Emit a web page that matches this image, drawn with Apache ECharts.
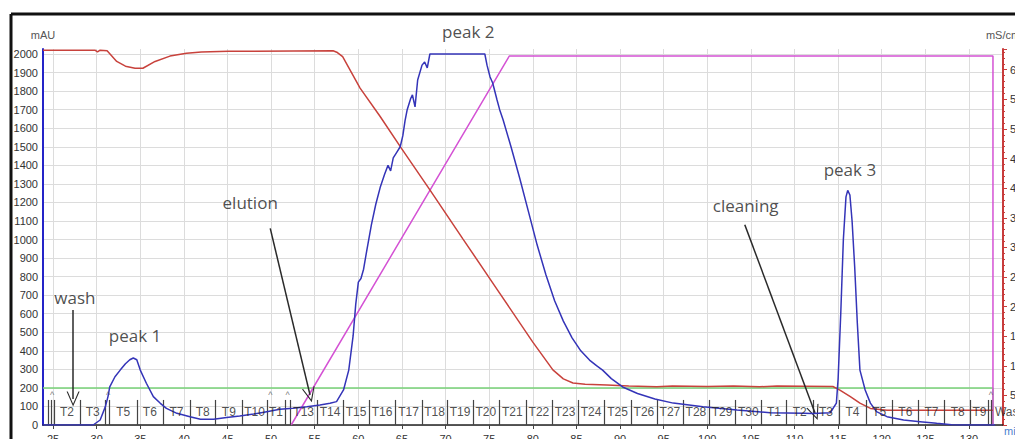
<!DOCTYPE html>
<html><head><meta charset="utf-8">
<script src="https://cdn.jsdelivr.net/npm/echarts@6/dist/echarts.min.js"></script>
<style>html,body{margin:0;padding:0;background:#fff;overflow:hidden}#c{width:1015px;height:439px}</style>
</head><body><div id="c"></div>
<script>
// ---- data ----
const xTicks = [25,30,35,40,45,50,55,60,65,70,75,80,85,90,95,100,105,110,115,120,125,130];
const yTicks = [0,100,200,300,400,500,600,700,800,900,1000,1100,1200,1300,1400,1500,1600,1700,1800,1900,2000];
// UV 280 nm (mAU) vs time (min)
const uvTime = [23.85,29.6,30.4,31.0,31.3,31.5,32.1,32.7,33.3,33.8,34.2,34.6,35.0,35.7,36.5,37.3,38.0,39.2,40.7,41.9,43.4,44.9,46.4,48.0,49.5,51.0,52.5,54.1,55.6,56.75,57.5,58.3,58.9,59.4,59.7,60.0,60.3,60.6,61.0,61.5,62.0,62.5,63.0,63.4,63.7,64.0,64.4,64.8,65.1,65.35,65.6,66.0,66.2,66.5,66.8,67.3,67.6,67.9,68.2,74.5,74.75,75.1,75.4,75.9,76.2,76.6,77.5,78.5,79.5,80.5,81.5,82.5,83.5,84.5,85.5,86.5,87.3,88.0,89.0,90.3,92.0,94.0,96.1,99.5,103.4,107.2,111.0,112.1,114.1,114.8,115.0,115.3,115.6,115.9,116.1,116.35,116.6,116.9,117.2,117.5,118.1,118.7,119.4,120.6,122.5,124.4,126.3,128.0,129.0,133.0];
const uvValue = [0,0,27,99,153,206,260,296,330,352,361,352,296,225,153,117,90,63,45,31,31,41,49,59,72,85,90,99,108,117,126,189,296,480,650,770,790,840,950,1080,1190,1280,1350,1400,1370,1440,1470,1500,1560,1640,1700,1760,1780,1715,1860,1940,1957,1925,2000,2000,1940,1876,1844,1752,1700,1644,1500,1330,1150,970,810,670,560,470,400,350,320,296,250,205,170,140,118,99,81,66,63,62,66,118,250,600,1000,1230,1265,1240,1100,850,550,296,189,118,72,45,27,18,9,2,0,0];
// Conductivity (mS/cm)
const condTime = [23.85,29.8,30.1,30.4,31.2,32.3,33.3,34.4,35.3,36.7,38.4,40.3,42.0,45.1,57.1,57.6,58.2,60.2,62.5,65.0,68.2,72.0,76.0,80.0,82.3,83.5,84.6,86.0,88.5,91.0,94.2,96.0,100.0,103.0,106.0,108.0,111.0,114.4,115.2,116.4,117.5,118.7,120.6,132.75];
const condValue = [63.3,63.3,63.0,63.3,63.2,61.4,60.6,60.25,60.25,61.4,62.3,62.8,63.0,63.1,63.2,62.9,62.2,56.9,52.1,46.6,39.7,31.4,22.7,14.0,9.3,7.8,7.1,6.9,6.76,6.6,6.47,6.6,6.5,6.6,6.45,6.6,6.55,6.5,5.9,4.8,3.7,2.8,2.5,2.5];
// Conc B (%)
const concBTime = [52.3,77.3,132.75,132.75];
const concBValue = [0,100,100,0];
// Green trace (flat 200 level)
const greenTime = [23.85,132.75,132.75];
const greenValue = [200,200,0];
// Fractions
const fracEdges = [25.1,28.1,31.0,31.5,34.6,37.6,40.7,43.6,46.7,49.5,51.6,52.2,55.26,58.24,61.22,64.2,67.3,70.16,73.14,76.1,79.2,82.2,85.18,88.16,91.25,94.23,97.2,100.2,103.2,106.2,109.1,112.1,115.1,118.2,121.2,124.2,127.2,130.2,132.2,132.6];
const fracNames = ['T2','T3','','T5','T6','T7','T8','T9','T10','T1','','T13','T14','T15','T16','T17','T18','T19','T20','T21','T22','T23','T24','T25','T26','T27','T28','T29','T30','T1','T2','T3','T4','T5','T6','T7','T8','T9',''];
const extraMarks = [24.5,24.8];
const injectMarks = [24.9,31.3,49.9,51.9,132.5];
// Annotations
const noteText = ['wash','peak 1','elution','peak 2','cleaning','peak 3'];
const noteTime = [27.5,34.4,47.6,72.6,104.4,116.35];
const noteValue = [690,480,1202,2119,1186,1375];
const arrowFrom = [[27.3,620],[49.9,1060],[104.3,1080]];
const arrowTo = [[27.3,140],[54.46,162],[112.35,65]];

const zip = (a,b)=>a.map((v,i)=>[v,b[i]]);
const chart = echarts.init(document.getElementById('c'), null, {renderer:'svg'});
const FONT = 'Liberation Sans, Arial, sans-serif';
const chevron = 'path://M50,0 L100,100 L91,100 L50,18 L9,100 L0,100 Z';

const fracLineData = fracEdges.concat(extraMarks).map(t=>[{coord:[t,0]},{coord:[t,135]}]);
const fracLabelData = [];
for (let i=0;i<fracNames.length;i++){ if(fracNames[i]) fracLabelData.push({value:[(fracEdges[i]+fracEdges[i+1])/2,68],name:fracNames[i]}); }

chart.setOption({
  backgroundColor:'#fff',
  animation:false,
  grid:{left:43,right:12,top:49,bottom:14,containLabel:false,outerBoundsMode:'none'},
  xAxis:{type:'value',min:23.85,max:133.9,
    axisLine:{lineStyle:{color:'#222',width:1.5}},
    axisTick:{customValues:xTicks,length:4,lineStyle:{color:'#444'}},
    axisLabel:{customValues:xTicks,color:'#333',fontSize:11,fontFamily:FONT,margin:8},
    splitLine:{show:true,lineStyle:{color:'#dcdcdc',width:1}}},
  yAxis:[
    {type:'value',min:0,max:2027,position:'left',
     name:'mAU',nameLocation:'end',nameGap:9,nameTextStyle:{color:'#555',fontSize:11,fontFamily:FONT},
     axisLine:{show:true,lineStyle:{color:'#2424c8',width:2}},
     axisTick:{show:false,customValues:yTicks},
     axisLabel:{customValues:yTicks,color:'#333',fontSize:11,fontFamily:FONT,margin:5,formatter:v=>String(v)},
     splitLine:{show:true,lineStyle:{color:'#dcdcdc',width:1}}},
    {type:'value',min:0,max:63.5,interval:5,position:'right',
     name:'mS/cm',nameLocation:'end',nameGap:9,nameTextStyle:{color:'#555',fontSize:11,fontFamily:FONT},
     axisLine:{show:true,lineStyle:{color:'#c83c3c',width:2}},
     axisTick:{show:true,length:4,lineStyle:{color:'#c83c3c'}},
     minorTick:{show:true,splitNumber:5,length:2,lineStyle:{color:'#c83c3c'}},
     axisLabel:{color:'#333',fontSize:11,fontFamily:FONT,margin:7,formatter:v=>(v>0&&v%5===0)?String(v):''},
     splitLine:{show:false}},
    {type:'value',min:0,max:101.9,show:false}
  ],
  graphic:[
    {type:'line',shape:{x1:11,y1:14,x2:1015,y2:14},style:{stroke:'#111',lineWidth:3}},
    {type:'line',shape:{x1:11,y1:14,x2:11,y2:439},style:{stroke:'#111',lineWidth:3}},
    {type:'text',left:1004,top:425,style:{text:'min',fill:'#4a7fd0',font:'11px '+FONT}}
  ],
  series:[
    {type:'line',name:'Green',yAxisIndex:0,data:zip(greenTime,greenValue),symbol:'none',lineStyle:{color:'#78d278',width:1.5},z:2},
    {type:'line',name:'Conc B',yAxisIndex:2,data:zip(concBTime,concBValue),symbol:'none',lineStyle:{color:'#d452d4',width:1.5},z:3},
    {type:'line',name:'Cond',yAxisIndex:1,data:zip(condTime,condValue),symbol:'none',lineStyle:{color:'#c8423c',width:1.5},z:4},
    {type:'line',name:'UV',yAxisIndex:0,data:zip(uvTime,uvValue),symbol:'none',lineStyle:{color:'#3434b8',width:1.5},z:5},
    {type:'line',name:'frac',yAxisIndex:0,data:[],silent:true,
     markLine:{silent:true,symbol:['none','none'],animation:false,label:{show:false},
       lineStyle:{color:'#444',width:1.2,type:'solid'},data:fracLineData},z:6},
    {type:'scatter',yAxisIndex:0,data:fracLabelData,symbolSize:0,silent:true,
     label:{show:true,position:'inside',formatter:p=>p.name,color:'#222',fontSize:12,fontFamily:FONT},z:7},
    {type:'scatter',yAxisIndex:0,clip:false,data:[{value:[132.75,68],name:'Waste'}],symbolSize:0,silent:true,
     label:{show:true,position:'right',distance:2,formatter:p=>p.name,color:'#222',fontSize:12,fontFamily:FONT},z:7},
    {type:'scatter',yAxisIndex:0,data:injectMarks.map(t=>[t,160]),symbolSize:0,silent:true,
     label:{show:true,position:'inside',formatter:'^',color:'#555',fontSize:9,fontFamily:FONT},z:7},
    {type:'scatter',yAxisIndex:0,clip:false,data:noteText.map((s,i)=>({value:[noteTime[i],noteValue[i]],name:s})),symbolSize:0,silent:true,
     label:{show:true,position:'inside',formatter:p=>p.name,color:'#222',fontSize:17,fontFamily:'Open Sans, Noto Sans, sans-serif'},z:8},
    {type:'line',name:'arrows',yAxisIndex:0,data:[],silent:true,
     markLine:{silent:true,symbol:['none',chevron],symbolSize:[13,15],animation:false,label:{show:false},
       lineStyle:{color:'#2a2a2a',width:1.5,type:'solid'},itemStyle:{color:'#2a2a2a'},
       data:arrowFrom.map((a,i)=>[{coord:a},{coord:arrowTo[i]}])},z:9}
  ]
});
</script></body></html>
